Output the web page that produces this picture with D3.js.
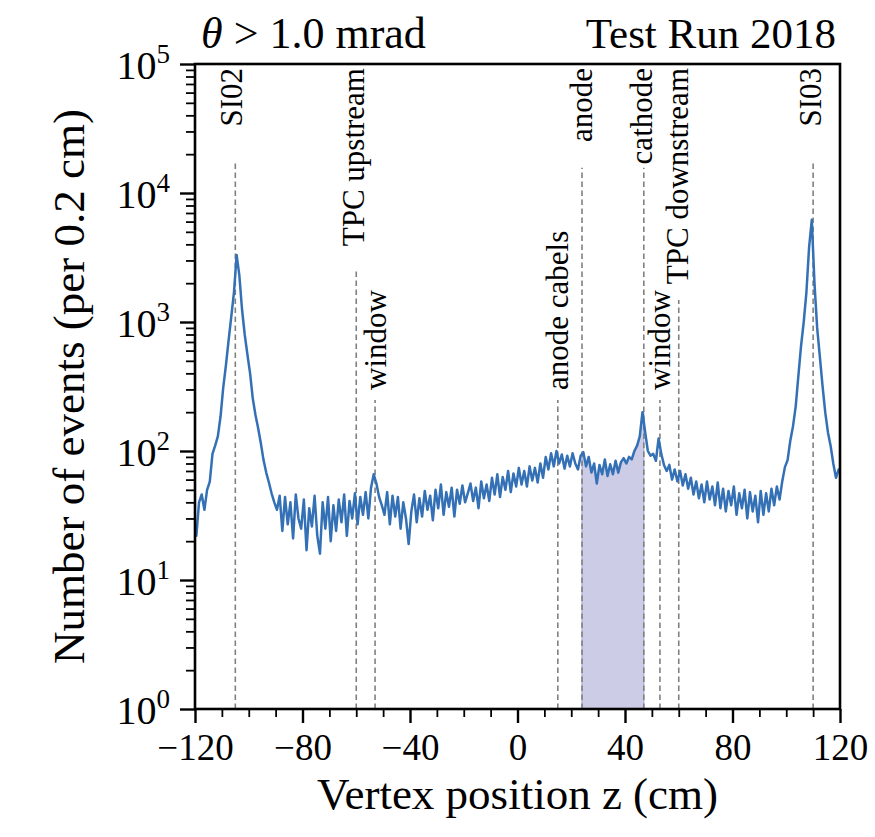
<!DOCTYPE html>
<html><head><meta charset="utf-8">
<script src="https://cdn.jsdelivr.net/npm/d3@7"></script>
<style>
body{margin:0;background:#fff}
svg text{font-family:"Liberation Serif","Times New Roman",Times,serif;fill:#000}
</style>
</head><body>
<svg id="chart" width="875" height="837"></svg>
<script>
// ---------- data ----------
const binStart = -120;   // cm
const binWidth = 1;      // cm
const counts = [
  22, 40, 46, 35, 50, 58, 95, 110, 130, 185,
  310, 460, 720, 1100, 1700, 3300, 2300, 1250, 800, 560,
  400, 255, 190, 150, 115, 85, 68, 57, 47, 40,
  35, 45, 24, 44, 27, 40, 21, 46, 30, 25,
  42, 17, 36, 26, 45, 22, 16, 40, 25, 44,
  20, 38, 24, 42, 28, 46, 22, 41, 30, 47,
  27, 44, 32, 48, 30, 52, 66, 56, 44, 38,
  32, 48, 27, 45, 31, 44, 25, 40, 30, 19,
  34, 46, 28, 43, 31, 49, 35, 45, 29, 50,
  36, 55, 32, 48, 37, 52, 31, 50, 39, 54,
  40, 47, 56, 41, 52, 36, 58, 43, 55, 41,
  62, 46, 66, 44, 63, 50, 70, 48, 67, 53,
  74, 55, 70, 53, 76, 59, 74, 57, 80, 62,
  90, 72, 96, 76, 100, 80, 94, 73, 92, 76,
  96, 80, 72, 92, 98, 76, 90, 68, 80, 56,
  78, 66, 86, 64, 79, 66, 84, 68, 82, 88,
  80, 90, 86, 100, 110, 130, 200, 140, 100, 92,
  95, 84, 125, 95, 78, 70, 78, 60, 72, 58,
  70, 54, 66, 51, 62, 46, 58, 43, 55, 40,
  58, 42, 53, 38, 57, 36, 51, 34, 49, 38,
  53, 32, 47, 36, 50, 30, 48, 34, 45, 28,
  49, 32, 47, 34, 51, 38, 53, 42, 58, 75,
  85, 120, 155, 220, 380, 650, 1000, 1700, 3800, 6200,
  2000, 900, 540, 320, 200, 140, 110, 80, 62, 72
];
const markerZ = [-105, -60, -53, 15, 24, 47, 53, 60, 110];
const markerLabels = ["SI02", "TPC upstream", "window", "anode cabels", "anode", "cathode", "window", "TPC downstream", "SI03"];
const shadeRange = [24, 47];
const xTicks = [-120, -80, -40, 0, 40, 80, 120];
const yTickExps = [0, 1, 2, 3, 4, 5];
const titleLeft = "θ > 1.0 mrad";
const titleRight = "Test Run 2018";
const xLabel = "Vertex position z (cm)";
const yLabel = "Number of events (per 0.2 cm)";

// ---------- layout ----------
const W = 875, H = 837;
const L = 195, R = 840, T = 64, B = 709;
const markerLineTop = [0.848, 0.68, 0.479, 0.479, 0.839, 0.839, 0.479, 0.634, 0.848];
const markerAnchor  = ["top", "top", "low", "low", "top", "top", "low", "top", "top"];
const markerDx      = [-4, -3, 0, 0, -1, -2, 0, -1, -3];

const svg = d3.select("#chart");
const x = d3.scaleLinear().domain([-120, 120]).range([L, R]);
const y = d3.scaleLog().domain([1, 1e5]).range([B, T]);

const pts = counts.map((c, i) => ({z: binStart + (i + 0.5) * binWidth, c}));

// ---------- shaded band ----------
const inBand = pts.filter(d => d.z >= shadeRange[0] && d.z <= shadeRange[1]);
const shadePts = [{z: shadeRange[0], c: inBand[0].c}, ...inBand, {z: shadeRange[1], c: inBand[inBand.length - 1].c}];
svg.append("path")
  .datum(shadePts)
  .attr("d", d3.area().x(d => x(d.z)).y0(y(1)).y1(d => y(d.c)))
  .attr("fill", "#000080").attr("fill-opacity", 0.2)
  .attr("stroke", "#9a9fd0").attr("stroke-width", 1);

// ---------- marker lines ----------
markerZ.forEach((z, i) => {
  svg.append("line")
    .attr("x1", x(z)).attr("x2", x(z))
    .attr("y1", B).attr("y2", B - markerLineTop[i] * (B - T))
    .attr("stroke", "#808080").attr("stroke-width", 1.6)
    .attr("stroke-dasharray", "5.5,3.5");
});

// ---------- histogram ----------
svg.append("clipPath").attr("id", "clip").append("rect")
  .attr("x", L).attr("y", T).attr("width", R - L).attr("height", B - T);
const histPts = [{z: binStart, c: counts[0]}, ...pts, {z: binStart + counts.length * binWidth, c: counts[counts.length - 1]}];
svg.append("path")
  .datum(histPts)
  .attr("clip-path", "url(#clip)")
  .attr("d", d3.line().x(d => x(d.z)).y(d => y(d.c)))
  .attr("fill", "none").attr("stroke", "#3470b5").attr("stroke-width", 2.5)
  .attr("stroke-linejoin", "round");

// ---------- marker labels ----------
markerZ.forEach((z, i) => {
  const top = markerAnchor[i] === "top";
  svg.append("text")
    .attr("transform", `translate(${x(z) + markerDx[i]},${top ? T + 4 : 390}) rotate(-90)`)
    .attr("text-anchor", top ? "end" : "start")
    .attr("dominant-baseline", "central")
    .attr("font-size", 31)
    .text(markerLabels[i]);
});

// ---------- axes ----------
const xMinor = d3.range(-120, 121, 10).filter(v => !xTicks.includes(v));
const xAxis = svg.append("g").attr("transform", `translate(0,${B})`)
  .call(d3.axisBottom(x).tickValues(xTicks).tickSize(14).tickPadding(10)
    .tickFormat(d => d < 0 ? "\u2212" + Math.abs(d) : String(d)));
xAxis.select(".domain").remove();
xAxis.selectAll(".tick line").attr("stroke", "#000").attr("stroke-width", 2.4);
xAxis.selectAll(".tick text").attr("font-size", 37).attr("font-family", "Liberation Serif, Times New Roman, serif").attr("dy", "0.72em");
const xAxisMinor = svg.append("g").attr("transform", `translate(0,${B})`)
  .call(d3.axisBottom(x).tickValues(xMinor).tickSize(8).tickFormat(""));
xAxisMinor.select(".domain").remove();
xAxisMinor.selectAll(".tick line").attr("stroke", "#000").attr("stroke-width", 1.8);

const yMajor = yTickExps.map(e => Math.pow(10, e));
const yMinor = [];
yTickExps.slice(0, -1).forEach(e => { for (let k = 2; k <= 9; k++) yMinor.push(k * Math.pow(10, e)); });
const yAxis = svg.append("g").attr("transform", `translate(${L},0)`)
  .call(d3.axisLeft(y).tickValues(yMajor).tickSize(15).tickFormat(""));
yAxis.select(".domain").remove();
yAxis.selectAll(".tick line").attr("stroke", "#000").attr("stroke-width", 2.4);
const yAxisMinor = svg.append("g").attr("transform", `translate(${L},0)`)
  .call(d3.axisLeft(y).tickValues(yMinor).tickSize(9).tickFormat(""));
yAxisMinor.select(".domain").remove();
yAxisMinor.selectAll(".tick line").attr("stroke", "#000").attr("stroke-width", 1.8);

yTickExps.forEach(e => {
  const t = svg.append("text")
    .attr("x", 170).attr("y", y(Math.pow(10, e)) + 15)
    .attr("text-anchor", "end").attr("font-size", 40);
  t.append("tspan").text("10");
  t.append("tspan").attr("font-size", 27).attr("dy", -16).text(String(e));
});

// spines
svg.append("rect").attr("x", L).attr("y", T).attr("width", R - L).attr("height", B - T)
  .attr("fill", "none").attr("stroke", "#000").attr("stroke-width", 2.6);

// ---------- titles & labels ----------
const tl = svg.append("text").attr("x", 201).attr("y", 48).attr("font-size", 44);
tl.append("tspan").attr("font-style", "italic").text(titleLeft.slice(0, 1));
tl.append("tspan").text(titleLeft.slice(1));
svg.append("text").attr("x", 836).attr("y", 48).attr("text-anchor", "end")
  .attr("font-size", 43).text(titleRight);
svg.append("text").attr("x", (L + R) / 2).attr("y", 809).attr("text-anchor", "middle")
  .attr("font-size", 45).text(xLabel);
svg.append("text").attr("transform", `translate(84,${(T + B) / 2}) rotate(-90)`)
  .attr("text-anchor", "middle").attr("font-size", 45).text(yLabel);
</script>
</body></html>
